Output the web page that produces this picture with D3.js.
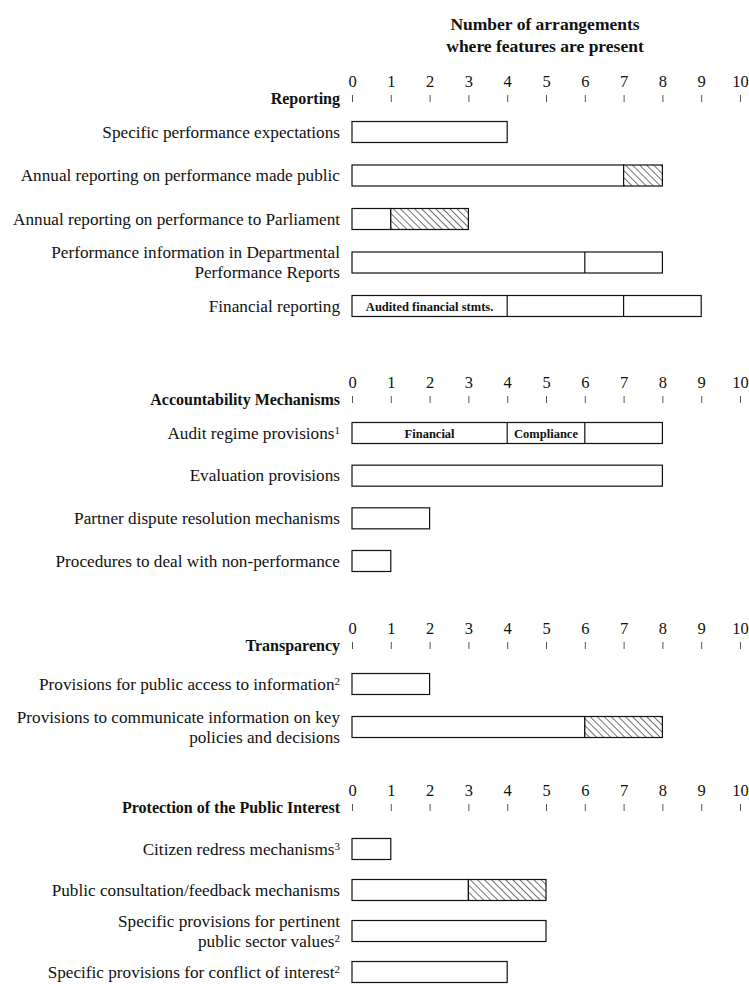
<!DOCTYPE html>
<html>
<head>
<meta charset="utf-8">
<script src="https://cdn.jsdelivr.net/npm/d3@7"></script>
<style>
  html, body { margin: 0; padding: 0; background: #fff; }
  svg { display: block; }
  text { font-family: "Liberation Serif", "Times New Roman", serif; fill: #111; }
</style>
</head>
<body>
<svg id="chart" width="749" height="984"></svg>
<script>
// ---------------- DATA ----------------
const titleLines = ["Number of arrangements", "where features are present"];
const sections = ["Reporting", "Accountability Mechanisms", "Transparency", "Protection of the Public Interest"];
const tickValues = [0, 1, 2, 3, 4, 5, 6, 7, 8, 9, 10];

const featureLabels = [
  ["Specific performance expectations"],
  ["Annual reporting on performance made public"],
  ["Annual reporting on performance to Parliament"],
  ["Performance information in Departmental", "Performance Reports"],
  ["Financial reporting"],
  ["Audit regime provisions"],
  ["Evaluation provisions"],
  ["Partner dispute resolution mechanisms"],
  ["Procedures to deal with non-performance"],
  ["Provisions for public access to information"],
  ["Provisions to communicate information on key", "policies and decisions"],
  ["Citizen redress mechanisms"],
  ["Public consultation/feedback mechanisms"],
  ["Specific provisions for pertinent", "public sector values"],
  ["Specific provisions for conflict of interest"]
];
const featureNotes   = ["", "", "", "", "", "1", "", "", "", "2", "", "3", "", "2", "2"];
const featureSection = [0, 0, 0, 0, 0, 1, 1, 1, 1, 2, 2, 3, 3, 3, 3];
const plainValues    = [4, 7, 1, 8, 9, 8, 8, 2, 1, 2, 6, 1, 3, 5, 4];
const hatchedValues  = [0, 1, 2, 0, 0, 0, 0, 0, 0, 0, 2, 0, 2, 0, 0];
const dividerValues  = [[], [], [], [6], [4, 7], [4, 6], [], [], [], [], [], [], [], [], []];

const segTextFeature = [4, 5, 5];
const segTextFrom    = [0, 0, 4];
const segTextTo      = [4, 4, 6];
const segTexts       = ["Audited financial stmts.", "Financial", "Compliance"];

// ---------------- LAYOUT ----------------
const svg = d3.select("#chart");
const x = d3.scaleLinear().domain([0, 10]).range([352, 740]);
const labelRight = 340;
const barH = 21;
const sectionRowRange = [[132, 306], [433, 561], [684, 727], [849, 972]];
const sectionHeadGap = [30, 30, 35, 38];

const rowScales = sections.map((s, si) => {
  const idx = featureSection.map((d, i) => d === si ? i : -1).filter(i => i >= 0);
  return d3.scalePoint().domain(idx).range(sectionRowRange[si]);
});
const yOf = i => rowScales[featureSection[i]](i);

// hatch pattern (lines running top-left to bottom-right)
const defs = svg.append("defs");
const pat = defs.append("pattern")
  .attr("id", "hatch").attr("patternUnits", "userSpaceOnUse")
  .attr("width", 5).attr("height", 5)
  .attr("patternTransform", "rotate(-45)");
pat.append("rect").attr("width", 5).attr("height", 5).attr("fill", "#fff");
pat.append("line").attr("x1", 0).attr("y1", 0).attr("x2", 0).attr("y2", 5)
  .attr("stroke", "#111").attr("stroke-width", 1.2);

// title
svg.append("g").selectAll("text").data(titleLines).join("text")
  .attr("x", 545).attr("y", (d, i) => 30 + i * 22)
  .attr("text-anchor", "middle")
  .attr("font-weight", "bold").attr("font-size", 17.5)
  .text(d => d);

// section axes
sections.forEach((s, si) => {
  const first = sectionRowRange[si][0];
  const tickBottom = first - sectionHeadGap[si];
  const g = svg.append("g").attr("transform", `translate(0,${tickBottom})`);
  const axis = d3.axisTop(x).tickValues(tickValues).tickSize(7).tickPadding(8).tickFormat(d3.format("d"));
  g.call(axis);
  g.select(".domain").remove();
  g.selectAll(".tick line").attr("stroke", "#555").attr("stroke-width", 1);
  g.selectAll(".tick text")
    .attr("font-family", "Liberation Serif, Times New Roman, serif")
    .attr("font-size", 16.5).attr("fill", "#111");
  svg.append("text")
    .attr("x", labelRight).attr("y", tickBottom + 2)
    .attr("text-anchor", "end").attr("font-weight", "bold").attr("font-size", 16)
    .text(s);
});

// feature labels
const labelG = svg.append("g").attr("font-size", 17.2).attr("text-anchor", "end");
featureLabels.forEach((lines, i) => {
  const cy = yOf(i);
  const n = lines.length;
  const lh = 20;
  lines.forEach((ln, li) => {
    const base = cy + 5.5 + (li - (n - 1) / 2) * lh;
    const t = labelG.append("text").attr("x", labelRight).attr("y", base);
    t.append("tspan").text(ln);
    if (li === n - 1 && featureNotes[i]) {
      t.append("tspan").attr("dy", -5).attr("font-size", 11).text(featureNotes[i]);
    }
  });
});

// bars
const barG = svg.append("g");
featureLabels.forEach((d, i) => {
  const cy = yOf(i);
  const top = cy - barH / 2;
  const p = plainValues[i], h = hatchedValues[i];
  barG.append("rect")
    .attr("x", x(0)).attr("y", top)
    .attr("width", x(p) - x(0)).attr("height", barH)
    .attr("fill", "#fff").attr("stroke", "#111").attr("stroke-width", 1.2);
  if (h > 0) {
    barG.append("rect")
      .attr("x", x(p)).attr("y", top)
      .attr("width", x(p + h) - x(p)).attr("height", barH)
      .attr("fill", "url(#hatch)").attr("stroke", "#111").attr("stroke-width", 1.2);
  }
  dividerValues[i].forEach(v => {
    barG.append("line")
      .attr("x1", x(v)).attr("x2", x(v))
      .attr("y1", top).attr("y2", top + barH)
      .attr("stroke", "#111").attr("stroke-width", 1.2);
  });
});

// in-bar texts
segTexts.forEach((t, k) => {
  const i = segTextFeature[k];
  svg.append("text")
    .attr("x", (x(segTextFrom[k]) + x(segTextTo[k])) / 2)
    .attr("y", yOf(i) + 4.5)
    .attr("text-anchor", "middle").attr("font-weight", "bold").attr("font-size", 12.5)
    .text(t);
});
</script>
</body>
</html>
